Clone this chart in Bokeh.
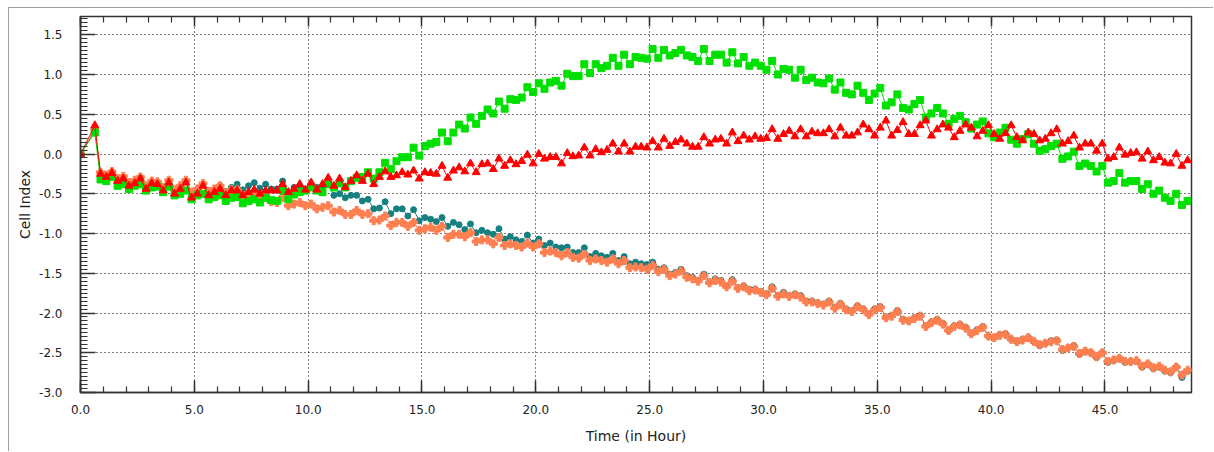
from bokeh.plotting import figure
from bokeh.models import (LinearAxis, Range1d, SingleIntervalTicker, NumeralTickFormatter,
                          ColumnDataSource, CustomJSTickFormatter)
from bokeh.embed import file_html
from bokeh.resources import INLINE

hours = [0.0, 0.63,
    0.88, 1.13, 1.38, 1.63, 1.88, 2.13, 2.38, 2.63, 2.88, 3.13, 3.38, 3.63, 3.88, 4.13, 4.38, 4.63,
    4.88, 5.13, 5.38, 5.63, 5.88, 6.13, 6.38, 6.63, 6.88, 7.13, 7.38, 7.63, 7.88, 8.13, 8.38, 8.63,
    8.88, 9.13, 9.38, 9.63, 9.88, 10.13, 10.38, 10.63, 10.88, 11.13, 11.38, 11.63, 11.88, 12.13, 12.38, 12.63,
    12.88, 13.13, 13.38, 13.63, 13.88, 14.13, 14.38, 14.63, 14.88, 15.13, 15.38, 15.63, 15.88, 16.13, 16.38, 16.63,
    16.88, 17.13, 17.38, 17.63, 17.88, 18.13, 18.38, 18.63, 18.88, 19.13, 19.38, 19.63, 19.88, 20.13, 20.38, 20.63,
    20.88, 21.13, 21.38, 21.63, 21.88, 22.13, 22.38, 22.63, 22.88, 23.13, 23.38, 23.63, 23.88, 24.13, 24.38, 24.63,
    24.88, 25.13, 25.38, 25.63, 25.88, 26.13, 26.38, 26.63, 26.88, 27.13, 27.38, 27.63, 27.88, 28.13, 28.38, 28.63,
    28.88, 29.13, 29.38, 29.63, 29.88, 30.13, 30.38, 30.63, 30.88, 31.13, 31.38, 31.63, 31.88, 32.13, 32.38, 32.63,
    32.88, 33.13, 33.38, 33.63, 33.88, 34.13, 34.38, 34.63, 34.88, 35.13, 35.38, 35.63, 35.88, 36.13, 36.38, 36.63,
    36.88, 37.13, 37.38, 37.63, 37.88, 38.13, 38.38, 38.63, 38.88, 39.13, 39.38, 39.63, 39.88, 40.13, 40.38, 40.63,
    40.88, 41.13, 41.38, 41.63, 41.88, 42.13, 42.38, 42.63, 42.88, 43.13, 43.38, 43.63, 43.88, 44.13, 44.38, 44.63,
    44.88, 45.13, 45.38, 45.63, 45.88, 46.13, 46.38, 46.63, 46.88, 47.13, 47.38, 47.63, 47.88, 48.13, 48.38, 48.63]

ci_green = [0.0, 0.27,
    -0.32, -0.34, -0.29, -0.40, -0.38, -0.44, -0.40, -0.38, -0.46, -0.42, -0.41, -0.48, -0.41, -0.52, -0.50, -0.46,
    -0.57, -0.52, -0.50, -0.57, -0.54, -0.52, -0.59, -0.55, -0.54, -0.62, -0.59, -0.57, -0.61, -0.55, -0.58, -0.59,
    -0.46, -0.57, -0.51, -0.48, -0.46, -0.42, -0.46, -0.48, -0.38, -0.42, -0.37, -0.42, -0.34, -0.30, -0.29, -0.23,
    -0.31, -0.23, -0.11, -0.19, -0.09, -0.04, -0.04, 0.08, -0.02, 0.10, 0.13, 0.15, 0.27, 0.16, 0.27, 0.37,
    0.32, 0.46, 0.38, 0.48, 0.56, 0.51, 0.66, 0.57, 0.69, 0.68, 0.71, 0.84, 0.78, 0.89, 0.82, 0.90,
    0.92, 0.86, 1.01, 0.98, 0.98, 1.13, 1.02, 1.13, 1.08, 1.11, 1.21, 1.11, 1.25, 1.13, 1.22, 1.21,
    1.20, 1.32, 1.21, 1.31, 1.24, 1.27, 1.31, 1.24, 1.22, 1.17, 1.32, 1.17, 1.25, 1.25, 1.15, 1.28,
    1.14, 1.22, 1.11, 1.15, 1.11, 1.06, 1.17, 1.00, 1.07, 1.06, 0.96, 1.06, 0.93, 0.96, 0.90, 0.89,
    0.95, 0.81, 0.90, 0.77, 0.75, 0.86, 0.77, 0.68, 0.76, 0.83, 0.61, 0.65, 0.75, 0.58, 0.56, 0.63,
    0.68, 0.46, 0.51, 0.58, 0.51, 0.38, 0.44, 0.48, 0.40, 0.32, 0.37, 0.41, 0.26, 0.21, 0.27, 0.33,
    0.18, 0.13, 0.19, 0.25, 0.13, 0.04, 0.06, 0.10, 0.13, -0.06, -0.03, 0.03, -0.15, -0.12, -0.15, -0.22,
    -0.15, -0.36, -0.34, -0.24, -0.36, -0.34, -0.34, -0.44, -0.38, -0.50, -0.46, -0.55, -0.59, -0.50, -0.64, -0.59]

ci_red = [0.0, 0.36,
    -0.25, -0.29, -0.24, -0.34, -0.31, -0.40, -0.37, -0.31, -0.44, -0.37, -0.38, -0.46, -0.36, -0.50, -0.44, -0.36,
    -0.55, -0.50, -0.40, -0.52, -0.48, -0.44, -0.52, -0.46, -0.46, -0.52, -0.48, -0.45, -0.50, -0.46, -0.46, -0.46,
    -0.38, -0.48, -0.44, -0.38, -0.45, -0.36, -0.45, -0.38, -0.30, -0.40, -0.31, -0.42, -0.34, -0.27, -0.34, -0.25,
    -0.38, -0.29, -0.22, -0.29, -0.27, -0.23, -0.26, -0.21, -0.31, -0.23, -0.24, -0.25, -0.15, -0.30, -0.21, -0.17,
    -0.22, -0.12, -0.23, -0.13, -0.12, -0.19, -0.06, -0.15, -0.08, -0.13, -0.09, -0.01, -0.12, 0.00, -0.06, -0.04,
    -0.04, -0.12, 0.01, -0.03, -0.02, 0.08, -0.02, 0.06, 0.02, 0.05, 0.13, 0.03, 0.13, 0.03, 0.09, 0.09,
    0.08, 0.16, 0.08, 0.19, 0.10, 0.15, 0.18, 0.13, 0.09, 0.09, 0.21, 0.13, 0.18, 0.19, 0.13, 0.27,
    0.16, 0.23, 0.18, 0.22, 0.19, 0.20, 0.31, 0.19, 0.25, 0.29, 0.22, 0.31, 0.22, 0.28, 0.26, 0.26,
    0.31, 0.22, 0.33, 0.23, 0.23, 0.27, 0.37, 0.31, 0.23, 0.33, 0.42, 0.23, 0.30, 0.40, 0.25, 0.25,
    0.36, 0.42, 0.23, 0.31, 0.37, 0.33, 0.21, 0.29, 0.37, 0.33, 0.22, 0.29, 0.36, 0.25, 0.19, 0.26,
    0.36, 0.21, 0.17, 0.27, 0.25, 0.17, 0.19, 0.26, 0.31, 0.13, 0.16, 0.23, 0.08, 0.13, 0.13, 0.04,
    0.13, -0.06, -0.04, 0.08, -0.01, 0.01, 0.02, -0.06, 0.03, -0.08, -0.04, -0.11, -0.12, 0.00, -0.15, -0.08]

ci_teal = [0.0, 0.30,
    -0.24, -0.28, -0.23, -0.32, -0.30, -0.37, -0.35, -0.30, -0.41, -0.36, -0.36, -0.43, -0.34, -0.46, -0.42, -0.35,
    -0.50, -0.46, -0.39, -0.48, -0.45, -0.40, -0.47, -0.42, -0.38, -0.45, -0.40, -0.36, -0.43, -0.38, -0.44, -0.44,
    -0.34, -0.48, -0.42, -0.40, -0.44, -0.40, -0.42, -0.42, -0.38, -0.52, -0.50, -0.55, -0.52, -0.52, -0.59, -0.57,
    -0.69, -0.68, -0.60, -0.75, -0.69, -0.69, -0.78, -0.70, -0.84, -0.80, -0.82, -0.85, -0.80, -0.91, -0.86, -0.89,
    -0.95, -0.88, -0.99, -0.96, -0.99, -1.01, -0.94, -1.07, -1.04, -1.08, -1.10, -1.02, -1.12, -1.07, -1.15, -1.12,
    -1.17, -1.18, -1.17, -1.24, -1.24, -1.18, -1.29, -1.25, -1.28, -1.30, -1.25, -1.34, -1.29, -1.38, -1.36, -1.38,
    -1.39, -1.36, -1.45, -1.43, -1.51, -1.49, -1.45, -1.53, -1.55, -1.59, -1.51, -1.61, -1.57, -1.59, -1.66, -1.58,
    -1.68, -1.66, -1.70, -1.70, -1.73, -1.76, -1.67, -1.78, -1.74, -1.78, -1.76, -1.78, -1.85, -1.85, -1.87, -1.89,
    -1.85, -1.93, -1.88, -1.95, -1.97, -1.91, -1.95, -2.01, -1.95, -1.92, -2.05, -2.03, -1.97, -2.08, -2.10, -2.06,
    -2.03, -2.16, -2.11, -2.08, -2.13, -2.22, -2.16, -2.14, -2.18, -2.26, -2.21, -2.17, -2.29, -2.31, -2.27, -2.26,
    -2.33, -2.36, -2.33, -2.31, -2.36, -2.41, -2.38, -2.35, -2.34, -2.47, -2.44, -2.41, -2.52, -2.48, -2.50, -2.56,
    -2.50, -2.62, -2.60, -2.57, -2.62, -2.61, -2.61, -2.68, -2.64, -2.70, -2.68, -2.73, -2.75, -2.68, -2.81, -2.73]

ci_orange = [0.0, 0.31,
    -0.23, -0.27, -0.22, -0.31, -0.28, -0.36, -0.33, -0.29, -0.40, -0.34, -0.35, -0.42, -0.33, -0.45, -0.40, -0.33,
    -0.48, -0.44, -0.37, -0.47, -0.44, -0.40, -0.49, -0.45, -0.45, -0.52, -0.50, -0.48, -0.56, -0.54, -0.60, -0.61,
    -0.55, -0.65, -0.63, -0.61, -0.65, -0.63, -0.69, -0.67, -0.65, -0.73, -0.71, -0.76, -0.76, -0.71, -0.76, -0.75,
    -0.84, -0.83, -0.78, -0.90, -0.86, -0.86, -0.91, -0.86, -0.96, -0.94, -0.92, -0.96, -0.91, -1.05, -1.01, -1.01,
    -1.04, -0.99, -1.10, -1.08, -1.08, -1.13, -1.05, -1.15, -1.13, -1.15, -1.17, -1.12, -1.17, -1.13, -1.24, -1.22,
    -1.24, -1.28, -1.24, -1.30, -1.31, -1.26, -1.34, -1.32, -1.34, -1.36, -1.32, -1.38, -1.34, -1.43, -1.42, -1.43,
    -1.45, -1.40, -1.48, -1.45, -1.53, -1.51, -1.47, -1.55, -1.57, -1.60, -1.53, -1.62, -1.59, -1.61, -1.67, -1.60,
    -1.69, -1.67, -1.72, -1.71, -1.74, -1.77, -1.69, -1.79, -1.76, -1.79, -1.77, -1.80, -1.86, -1.86, -1.88, -1.90,
    -1.86, -1.94, -1.89, -1.96, -1.98, -1.92, -1.96, -2.02, -1.96, -1.93, -2.06, -2.04, -1.98, -2.09, -2.10, -2.07,
    -2.04, -2.17, -2.12, -2.09, -2.14, -2.22, -2.17, -2.15, -2.19, -2.26, -2.22, -2.18, -2.29, -2.31, -2.28, -2.27,
    -2.33, -2.36, -2.34, -2.31, -2.36, -2.40, -2.38, -2.36, -2.35, -2.46, -2.44, -2.42, -2.51, -2.48, -2.50, -2.55,
    -2.50, -2.61, -2.59, -2.57, -2.61, -2.61, -2.60, -2.67, -2.64, -2.69, -2.67, -2.72, -2.74, -2.68, -2.78, -2.72]

x_major_interval = 5
y_major_interval = 0.5

FONT = "DejaVu Sans"
TXT = "#222222"

p = figure(width=1205, height=444,
           x_range=Range1d(0, 48.8), y_range=Range1d(-3.0, 1.73),
           output_backend="svg", toolbar_location=None,
           x_axis_label="Time (in Hour)", y_axis_label="Cell Index",
           min_border_left=71, min_border_right=23, min_border_top=8, min_border_bottom=60)
p.styles = {"margin-left": "8px", "margin-top": "7px",
            "border-left": "1px solid #a0a0a0", "border-top": "1px solid #a0a0a0"}
p.background_fill_color = "white"
p.border_fill_color = "white"
p.outline_line_color = "#333333"
p.outline_line_width = 1.5

xt = SingleIntervalTicker(interval=x_major_interval, num_minor_ticks=5)
yt = SingleIntervalTicker(interval=y_major_interval, num_minor_ticks=10)

for ax, t in ((p.xaxis[0], xt), (p.yaxis[0], yt)):
    ax.ticker = t
    ax.formatter = NumeralTickFormatter(format="0.0")
    ax.major_tick_out = 0
    ax.minor_tick_out = 0
    ax.axis_line_color = "#333333"
    ax.axis_line_width = 1.5
    ax.major_tick_line_color = "#333333"
    ax.minor_tick_line_color = "#333333"
    ax.major_tick_line_width = 1.5
    ax.minor_tick_line_width = 1.2
    ax.major_label_text_font = FONT
    ax.major_label_text_font_size = "12px"
    ax.major_label_text_color = TXT
    ax.axis_label_text_font = FONT
    ax.axis_label_text_font_size = "14px"
    ax.axis_label_text_font_style = "normal"
    ax.axis_label_text_color = TXT

p.xaxis[0].major_tick_in = 12
p.xaxis[0].minor_tick_in = 6
p.xaxis[0].major_label_standoff = 12
p.xaxis[0].axis_label_standoff = 11
p.yaxis[0].major_tick_in = 15
p.yaxis[0].minor_tick_in = 7
p.yaxis[0].major_label_standoff = 18
p.yaxis[0].axis_label_standoff = 3

top = LinearAxis(ticker=SingleIntervalTicker(interval=x_major_interval, num_minor_ticks=5),
                 formatter=CustomJSTickFormatter(code="return ''"),
                 major_tick_out=0, minor_tick_out=0, major_tick_in=10, minor_tick_in=6,
                 major_label_standoff=0,
                 axis_line_color="#333333", major_tick_line_color="#333333",
                 minor_tick_line_color="#333333", major_tick_line_width=1.5, minor_tick_line_width=1.2)
p.add_layout(top, "above")

p.xgrid.ticker = xt
p.ygrid.ticker = yt
p.grid.grid_line_color = "#000000"
p.grid.grid_line_dash = "1 3"
p.grid.grid_line_width = 1

series = [
    (ci_teal, "#167f80", "circle", 6),
    (ci_orange, "#ff7f50", "plus", 8),
    (ci_green, "#00e000", "square", 7),
    (ci_red, "#ff0000", "triangle", 8),
]
for vals, col, mk, sz in series:
    n = min(len(hours), len(vals))
    src = ColumnDataSource(dict(x=hours[:n], y=vals[:n]))
    p.line("x", "y", source=src, line_color=col, line_width=1)
    p.scatter("x", "y", source=src, marker=mk, size=sz, fill_color=col, line_color=col)

open("out.html", "w").write(file_html(p, INLINE))
